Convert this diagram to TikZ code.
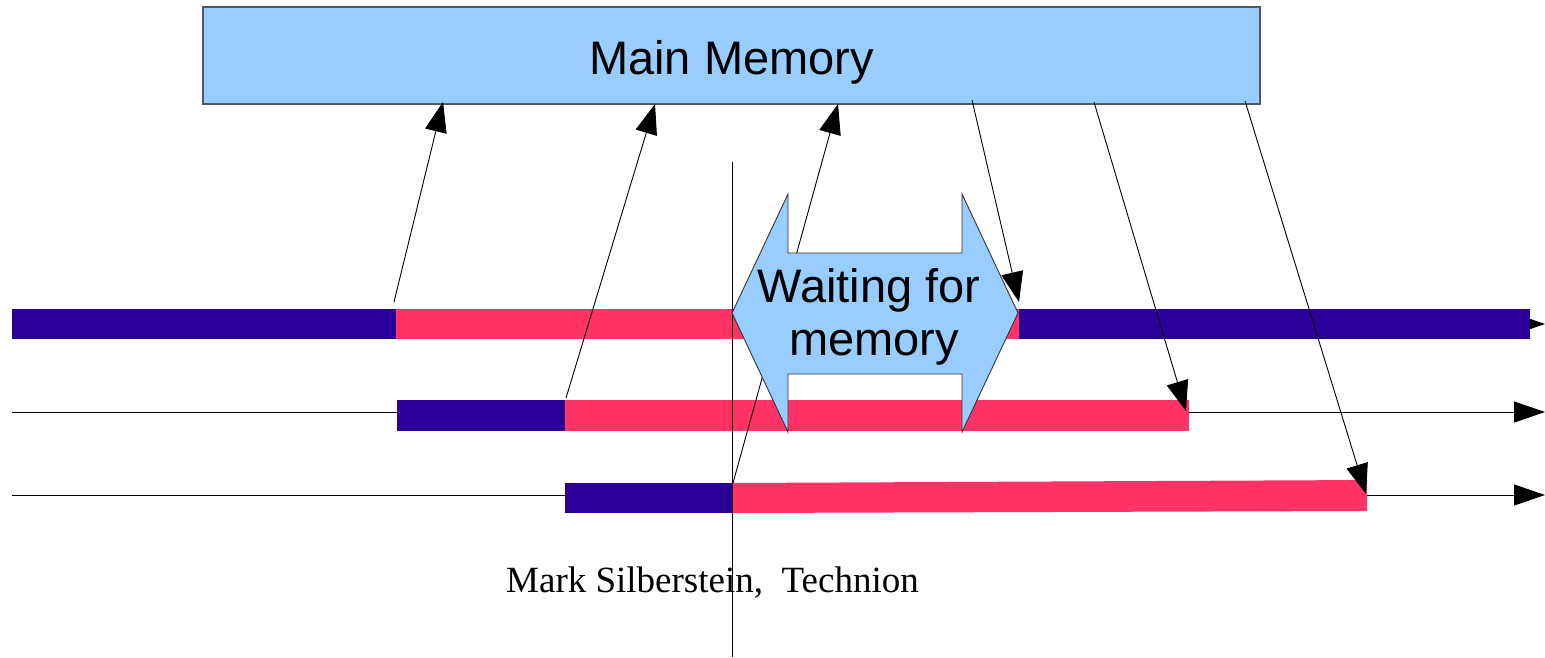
\documentclass[tikz,border=0pt]{standalone}
\usepackage{fontspec}
\setmainfont{Liberation Serif}
\newfontfamily\arialish{Liberation Sans}
\usetikzlibrary{arrows.meta}

\definecolor{memblue}{HTML}{99CCFF}
\definecolor{runblue}{HTML}{2A0099}
\definecolor{stallred}{HTML}{FF3366}
\definecolor{edgegray}{HTML}{505860}

\tikzset{
  memstyle/.style={draw=edgegray, line width=1.1pt, fill=memblue},
  bigtext/.style={font=\arialish\fontsize{47}{53}\selectfont, inner sep=0pt},
  req/.style={line width=0.9pt, -{Triangle[length=30pt,width=22pt]}},
  timeline/.style={line width=0.9pt, -{Triangle[length=31pt,width=21pt]}},
}

\begin{document}
\begin{tikzpicture}[x=1pt, y=-1pt]
\useasboundingbox (0,0) rectangle (1545,657);

% main memory block
\draw[memstyle] (203,7) rectangle (1260,104);
\node[bigtext, anchor=base] (mem) at (731.5,74) {Main Memory};

% timeline anchors
\coordinate (t1s) at (12,324);  \coordinate (t1e) at (1545,324);
\coordinate (t2s) at (12,412);  \coordinate (t2e) at (1545,412);
\coordinate (t3s) at (12,495);  \coordinate (t3e) at (1545,495);

\draw[timeline] (t1s) -- (t1e);
\draw[timeline] (t2s) -- (t2e);
\draw[timeline] (t3s) -- (t3e);

% thread 1
\fill[runblue]  (12,309)  rectangle (396,339);
\fill[stallred] (396,309) rectangle (1019,339);
\fill[runblue]  (1019,309) rectangle (1530,339);
% thread 2
\fill[runblue]  (397,400) rectangle (565,431);
\fill[stallred] (565,400) rectangle (1189,431);
% thread 3
\fill[runblue]  (565,483) rectangle (732,513);
\fill[stallred] (732,483) -- (1367,480) -- (1367,511) -- (732,513) -- cycle;

% current time marker
\coordinate (vtop) at (732,162);
\coordinate (vbot) at (732,657);
\draw[line width=0.9pt] (vtop) -- (vbot);

% memory requests and replies
\coordinate (r1a) at (394,302);  \coordinate (r1b) at (443,102);
\coordinate (r2a) at (566,398);  \coordinate (r2b) at (655,104);
\coordinate (r3a) at (733,483);  \coordinate (r3b) at (838,104);
\coordinate (r4a) at (972,100);  \coordinate (r4b) at (1019,302);
\coordinate (r5a) at (1094,102); \coordinate (r5b) at (1186,411);
\coordinate (r6a) at (1245,101); \coordinate (r6b) at (1366,494);

\draw[req] (r1a) -- (r1b);
\draw[req] (r2a) -- (r2b);
\draw[req] (r3a) -- (r3b);
\draw[req] (r5a) -- (r5b);
\draw[req] (r6a) -- (r6b);

% waiting double arrow
\draw[memstyle, line width=0.9pt, draw=black!80]
  (732,313) -- (788,194) -- (788,253) -- (962,253) -- (962,194)
  -- (1018,313) -- (962,432) -- (962,374) -- (788,374) -- (788,432) -- cycle;
\node[bigtext, anchor=base] (waitA) at (869,302) {Waiting for};
\node[bigtext, anchor=base] (waitB) at (874,355) {memory};

\draw[req] (r4a) -- (r4b);

% credit line
\node[font=\fontsize{37}{44}\selectfont, inner sep=0pt, anchor=base west] (credit) at (506,592) {Mark Silberstein,\hspace{0.5em}Technion};
\end{tikzpicture}
\end{document}
